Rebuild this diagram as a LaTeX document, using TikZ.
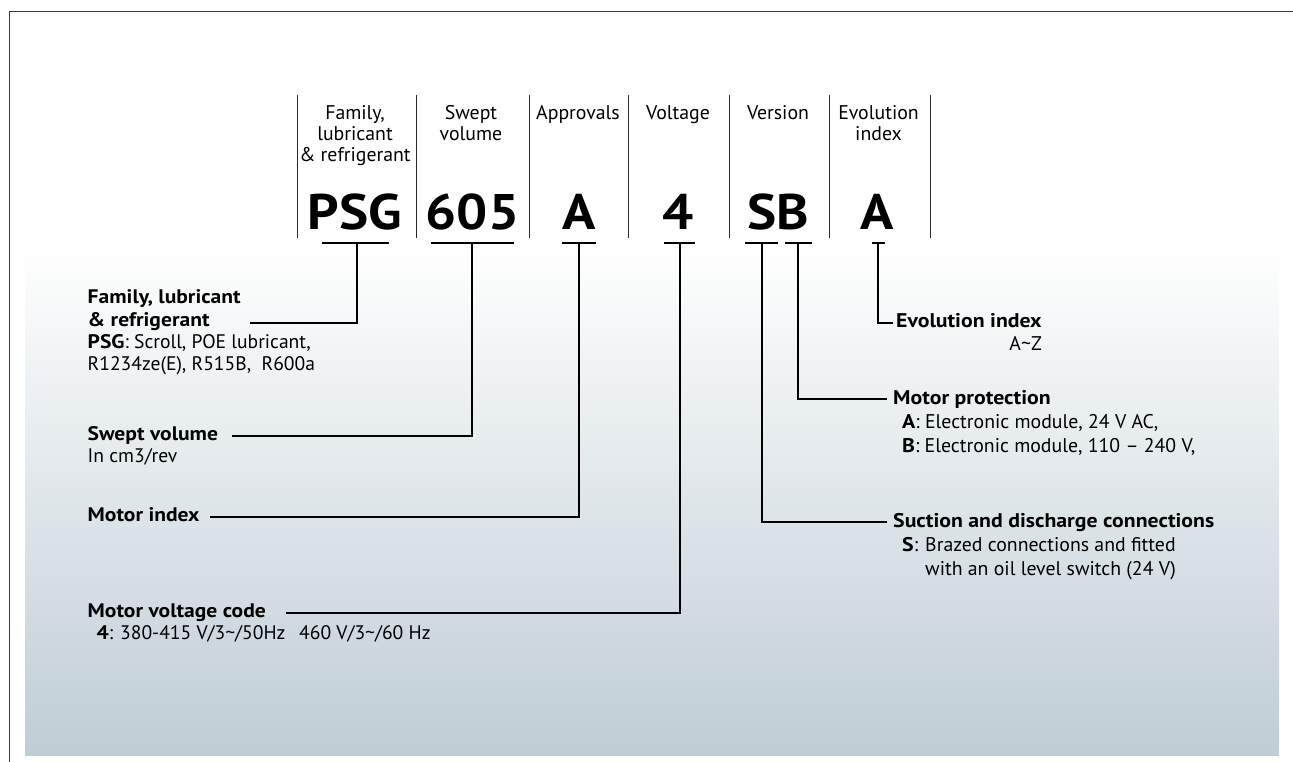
\documentclass[tikz,border=0pt]{standalone}
\usepackage{fontspec}
\setmainfont{PT Sans}[BoldFeatures={FakeStretch=1.1}]
\definecolor{bgbot}{HTML}{BFCDD5}
\definecolor{framec}{HTML}{3A3A3A}
\definecolor{sepc}{HTML}{2A2A2A}
\tikzset{
  hdr/.style={font=\fontsize{19.8}{21.5}\selectfont, anchor=base, inner sep=0pt},
  codetxt/.style={font=\fontsize{50}{55}\selectfont\bfseries, anchor=base, inner sep=0pt},
  lab/.style={font=\fontsize{19.6}{22}\selectfont, anchor=base west, inner sep=0pt},
  labb/.style={font=\fontsize{19.6}{22}\selectfont\bfseries, anchor=base west, inner sep=0pt},
  rlab/.style={font=\fontsize{19.8}{23}\selectfont, anchor=base west, inner sep=0pt},
  rlabb/.style={font=\fontsize{19.8}{23}\selectfont\bfseries, anchor=base west, inner sep=0pt},
  sepline/.style={draw=sepc, line width=1pt},
  tbar/.style={draw=black, line width=1.8pt},
  conn/.style={draw=black, line width=1.8pt},
  framel/.style={draw=framec, line width=1.6pt}
}
\begin{document}
\begin{tikzpicture}[x=1pt,y=-1pt]
\useasboundingbox (0,0) rectangle (1293,762);
% background gradient
\shade[top color=white, bottom color=bgbot] (25,245) rectangle (1279,755);
% frame
\coordinate (fbl) at (9.3,762);
\coordinate (ftl) at (9.3,11.5);
\coordinate (ftr) at (1293,11.5);
\draw[framel] (fbl) -- (ftl) -- (ftr);
% column separators
\foreach \i/\x in {1/297.7,2/416.7,3/529.3,4/628.3,5/729,6/829.7,7/930}{
  \coordinate (st\i) at (\x,95);
  \coordinate (sb\i) at (\x,238);
  \draw[sepline] (st\i) -- (sb\i);
}
% headers
\node[hdr] (h1a) at (355,119.3) {Family,};
\node[hdr] (h1b) at (355,140.5) {lubricant};
\node[hdr] (h1c) at (355,161.7) {\& refrigerant};
\node[hdr] (h2a) at (471,119.3) {Swept};
\node[hdr] (h2b) at (471,140.5) {volume};
\node[hdr] (h3a) at (578,119.3) {Approvals};
\node[hdr] (h4a) at (678,119.3) {Voltage};
\node[hdr] (h5a) at (778,119.3) {Version};
\node[hdr] (h6a) at (878.5,119.3) {Evolution};
\node[hdr] (h6b) at (878.5,140.5) {index};
% codes
\node[codetxt] (cpsg) at (355,229.3) {PSG};
\node[codetxt] (c605) at (472.5,229.3) {605};
\node[codetxt] (ca) at (579,229.3) {A};
\node[codetxt] (c4) at (678,229.3) {4};
\node[codetxt] (csb) at (778.5,229.3) {SB};
\node[codetxt] (cev) at (877.5,229.3) {A};
% T bars
\coordinate (b1l) at (321.7,243.3); \coordinate (b1r) at (389,243.3); \coordinate (t1) at (356.7,243.3);
\coordinate (b2l) at (430.7,243.3); \coordinate (b2r) at (514.3,243.3); \coordinate (t2) at (472.3,243.3);
\coordinate (b3l) at (561.7,243.3); \coordinate (b3r) at (596,243.3); \coordinate (t3) at (579,243.3);
\coordinate (b4l) at (664,243.3); \coordinate (b4r) at (695,243.3); \coordinate (t4) at (680,243.3);
\coordinate (b5l) at (745,243.3); \coordinate (b5r) at (778.3,243.3); \coordinate (t5) at (761.7,243.3);
\coordinate (b6l) at (785,243.3); \coordinate (b6r) at (811.7,243.3); \coordinate (t6) at (798.3,243.3);
\coordinate (b7l) at (871.7,243.3); \coordinate (b7r) at (885,243.3); \coordinate (t7) at (878.3,243.3);
\foreach \i in {1,...,7}{ \draw[tbar] (b\i l) -- (b\i r); }
% line ends
\coordinate (e1) at (250,322.7);
\coordinate (e2) at (232,436);
\coordinate (e3) at (210,517);
\coordinate (e4) at (285.5,613);
\coordinate (e5) at (887,522.3);
\coordinate (e6) at (887,399);
\coordinate (e7) at (893,323.3);
\foreach \i in {1,...,7}{ \draw[conn] (t\i) |- (e\i); }
% left labels
\node[labb] (fam1) at (87.5,303.3) {Family, lubricant};
\node[labb] (fam2) at (87.5,326) {\& refrigerant};
\node[lab] (fam3) at (87.5,348.3) {\textbf{PSG}: Scroll, POE lubricant,};
\node[lab] (fam4) at (87.5,370) {R1234ze(E), R515B,\ \ R600a};
\node[labb] (sw1) at (87.5,440.5) {Swept volume};
\node[lab] (sw2) at (87.5,462.5) {In cm3/rev};
\node[labb] (mi) at (87.5,521.5) {Motor index};
\node[labb] (mv1) at (87.5,617.5) {Motor voltage code};
\node[lab] (mv2) at (96.5,639.5) {\textbf{4}: 380-415 V/3\textasciitilde/50Hz\hspace{0.7em}460 V/3\textasciitilde/60 Hz};
% right labels
\node[rlabb] (ev1) at (896,327.5) {Evolution index};
\node[rlab, anchor=base east] (ev2) at (1042,350.5) {A\textasciitilde Z};
\node[rlabb] (mp1) at (893,404) {Motor protection};
\node[rlab] (mp2) at (902,428) {\textbf{A}: Electronic module, 24 V AC,};
\node[rlab] (mp3) at (902,452) {\textbf{B}: Electronic module, 110 – 240 V,};
\node[rlabb] (sd1) at (893,527.5) {Suction and discharge connections};
\node[rlab] (sd2a) at (902,551.5) {\textbf{S}:};
\node[rlab] (sd2b) at (925,551.5) {Brazed connections and fitted};
\node[rlab] (sd3) at (925,575.5) {with an oil level switch (24 V)};
\end{tikzpicture}
\end{document}
